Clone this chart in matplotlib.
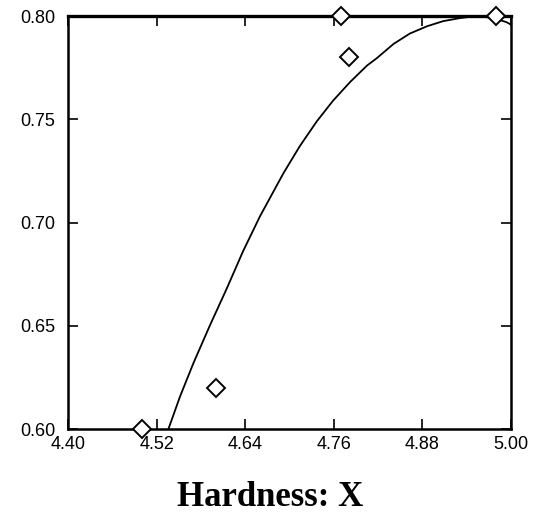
import matplotlib
matplotlib.use("Agg")
from matplotlib import pyplot as plt

# observed data points
hardness = [4.50, 4.60, 4.77, 4.78, 4.98]
response = [0.60, 0.62, 0.80, 0.78, 0.80]

# fitted curve
curve_x = [4.536, 4.552, 4.570, 4.592, 4.615, 4.637, 4.660, 4.692, 4.714,
           4.737, 4.759, 4.782, 4.805, 4.818, 4.841, 4.863, 4.886, 4.908,
           4.931, 4.954, 4.976, 4.994, 4.999]
curve_y = [0.600, 0.616, 0.632, 0.650, 0.668, 0.686, 0.703, 0.724, 0.737,
           0.749, 0.759, 0.768, 0.776, 0.7795, 0.7865, 0.7915, 0.795, 0.7975,
           0.799, 0.800, 0.799, 0.797, 0.796]

xticks = [4.40, 4.52, 4.64, 4.76, 4.88, 5.00]
yticks = [0.60, 0.65, 0.70, 0.75, 0.80]

W, H = 533, 516
fig = plt.figure(figsize=(W / 100, H / 100), dpi=100)
ax = fig.add_axes([68 / W, 1 - 429 / H, (511 - 68) / W, (429 - 16) / H])

ax.plot(curve_x, curve_y, color="black", lw=1.3)
ax.plot(hardness, response, linestyle="none", marker="D", markersize=9,
        markerfacecolor="white", markeredgecolor="black", markeredgewidth=1.4,
        clip_on=False, zorder=5)

ax.set_xlim(4.40, 5.00)
ax.set_ylim(0.60, 0.80)
ax.set_xticks(xticks)
ax.set_yticks(yticks)
ax.set_xticklabels([f"{t:.2f}" for t in xticks], fontfamily="Liberation Sans", fontsize=13)
ax.set_yticklabels([f"{t:.2f}" for t in yticks], fontfamily="Liberation Sans", fontsize=13)
ax.tick_params(direction="in", length=7, width=1.2, top=True, right=True)
ax.tick_params(axis="x", pad=5)
ax.tick_params(axis="y", pad=9)

for side in ax.spines.values():
    side.set_linewidth(1.8)
ax.spines["top"].set_linewidth(2.4)

fig.text(270 / W, 1 - 497 / H, "Hardness: X", ha="center", va="center",
         fontfamily="Liberation Serif", fontweight="bold", fontsize=25)

fig.savefig("out.png", dpi=100)
